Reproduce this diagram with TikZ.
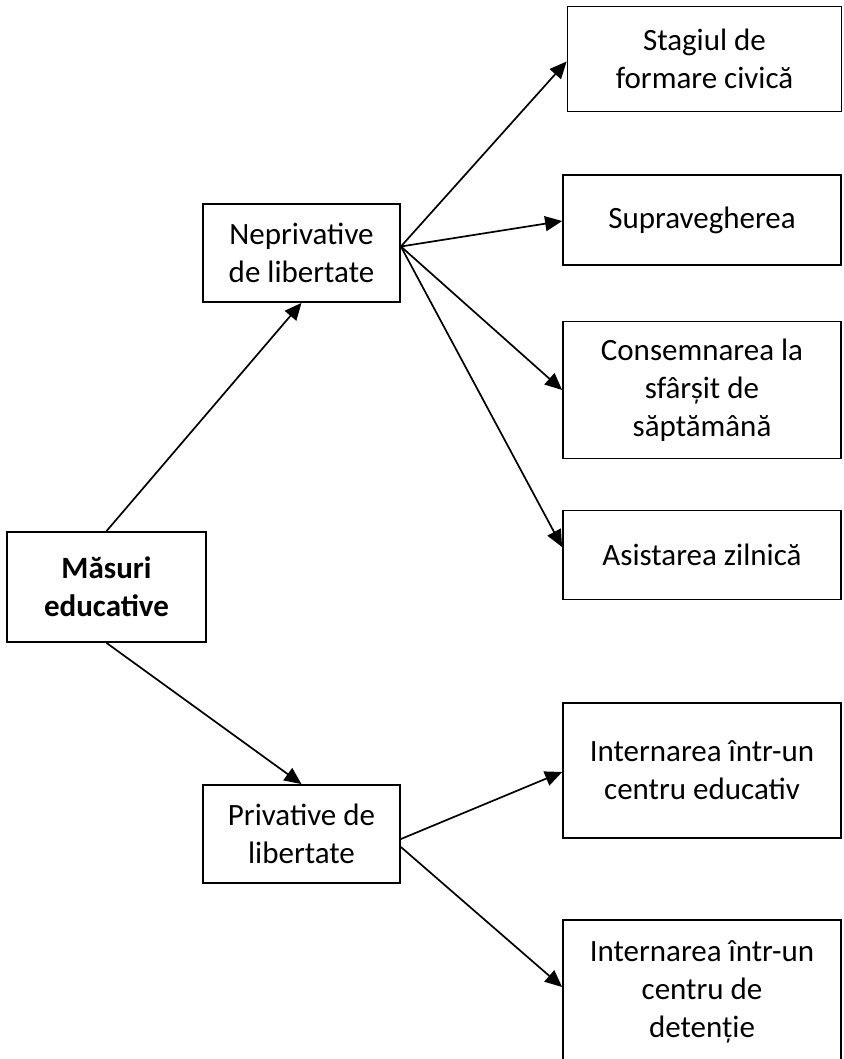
\documentclass[tikz,border=0pt]{standalone}
\usepackage{fontspec}
\setmainfont{Carlito}
\usetikzlibrary{arrows.meta,positioning}

\begin{document}
\begin{tikzpicture}[x=1pt,y=1pt,>={Triangle[length=17pt,width=15pt]},on grid,
  box/.style={draw,line width=1.8pt,align=center,inner sep=0pt,
    font=\fontsize{31}{38}\selectfont},
  link/.style={->,line width=1.7pt}]
\useasboundingbox (0,0) rectangle (843,-1059);
\clip (0,0) rectangle (843,-1059);
  \node[box,minimum width=199pt,minimum height=110pt] (M) at (106.5,-587)
       {\textbf{Măsuri}\\\textbf{educative}};
  \node[box,minimum width=197pt,minimum height=98pt]  (N) [above right=334pt and 195pt of M] {Neprivative\\de libertate};
  \node[box,minimum width=197pt,minimum height=98pt]  (P) [below right=247pt and 195pt of M] {Privative de\\libertate};
  \node[box,minimum width=274pt,minimum height=105pt] (S1) [above right=194pt and 403pt of N] {Stagiul de\\formare civică};
  \node[box,minimum width=278pt,minimum height=90pt]  (S2) [above right=33pt and 400.5pt of N] {Supravegherea};
  \node[box,minimum width=278pt,minimum height=137pt] (S3) [below right=137pt and 400.5pt of N] {Consemnarea la\\sfârșit de\\săptămână};
  \node[box,minimum width=278pt,minimum height=89pt]  (S4) [below right=302pt and 400.5pt of N] {Asistarea zilnică};
  \node[box,minimum width=278pt,minimum height=135pt] (I1) [above right=63.5pt and 400.5pt of P] {Internarea într-un\\centru educativ};
  \node[box,minimum width=278pt,minimum height=143pt] (I2) [below right=157.5pt and 400.5pt of P] {Internarea într-un\\centru de\\detenție};
\path (M.north)              edge [link] (N.south)
      (M.south)              edge [link] (P.north);
\path ([yshift=6.5pt]N.east) edge [link] ([yshift=-2.5pt]S1.west)
      ([yshift=6.5pt]N.east) edge [link] ([yshift=-1pt]S2.west)
      ([yshift=6.5pt]N.east) edge [link] (S3.west)
      ([yshift=6.5pt]N.east) edge [link] ([yshift=8pt]S4.west);
\path ([yshift=-5pt]P.east)  edge [link] ([yshift=-1.5pt]I1.west)
      ([yshift=-13pt]P.east) edge [link] ([yshift=4.5pt]I2.west);
\end{tikzpicture}
\end{document}
